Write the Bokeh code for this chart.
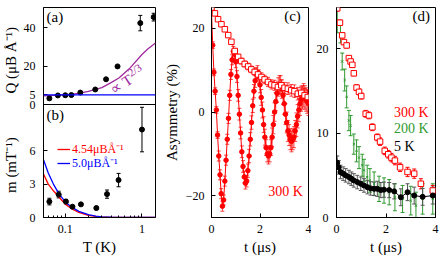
import math
from bokeh.layouts import row
from bokeh.models import (ColumnDataSource, FixedTicker, Label, Legend, LegendItem,
                          NumeralTickFormatter, Range1d, Span, TeeHead, Whisker)
from bokeh.plotting import figure
from bokeh.embed import file_html
from bokeh.resources import INLINE

FONT = "Liberation Serif"
RED = "#ff0000"
BLUE = "#0000ff"
PURPLE = "#a02aa0"
GREEN = "#2f9a2f"

# ---------------- panel (a) ----------------
a_T = [0.062, 0.080, 0.100, 0.120, 0.157, 0.246, 0.340, 0.480, 0.950, 1.420]
a_Q = [3.2, 4.7, 4.8, 4.9, 6.2, 7.8, 13.1, 19.8, 42.3, 45.4]
a_err = [0.8, 0.4, 0.4, 0.4, 0.5, 0.5, 0.5, 0.5, 4.0, 2.0]
a_fitT = [0.052, 0.07, 0.1, 0.15, 0.2, 0.3, 0.4, 0.5, 0.7, 1.0, 1.2, 1.5]
a_fitQ = [4.5, 4.7, 5.0, 5.8, 6.8, 8.8, 11.5, 13.8, 19.0, 26.0, 29.0, 32.0]
a_flat = 5.0
a_top = 50.4
a_yticks = [0, 5, 20, 40]

# ---------------- panel (b) ----------------
b_T = [0.062, 0.082, 0.102, 0.124, 0.160, 0.254, 0.350, 0.495, 1.000]
b_m = [1.43, 2.06, 1.43, 0.97, 1.18, 0.85, 2.1, 3.36, 7.9]
b_err = [0.3, 0.3, 0.2, 0.12, 0.12, 0.15, 0.37, 0.6, 2.0]
b_curveT = [0.052, 0.06, 0.07, 0.08, 0.09, 0.10, 0.12, 0.15, 0.20, 0.25, 0.30, 0.40, 0.50, 0.70, 1.0, 1.5]
b_red = [3.9, 3.0, 2.4, 1.95, 1.55, 1.2, 0.8, 0.45, 0.2, 0.1, 0.05, 0.02, 0.01, 0.0, 0.0, 0.0]
b_blue = [5.2, 4.0, 3.0, 2.3, 1.8, 1.4, 0.95, 0.55, 0.25, 0.12, 0.06, 0.025, 0.012, 0.0, 0.0, 0.0]
b_top = 10.15
b_yticks = [0, 3, 6]
T_range = (0.052, 1.5)
T_ticks = [0.1, 1.0]
T_minor = [0.06, 0.07, 0.08, 0.09, 0.2, 0.3, 0.4, 0.5, 0.6, 0.7, 0.8, 0.9]
b_leg_red = "4.54μBÅ⁻¹"
b_leg_blue = "5.0μBÅ⁻¹"

# ---------------- panel (c) ----------------
c_sq_t = [0.00, 0.14, 0.27, 0.41, 0.55, 0.69, 0.82, 0.96, 1.10, 1.23, 1.37, 1.51, 1.64, 1.78, 1.92,
          2.06, 2.19, 2.33, 2.47, 2.60, 2.74, 2.88, 3.01, 3.15, 3.29, 3.42, 3.56, 3.70, 3.84, 3.97]
c_sq_A = [25.0, 23.6, 22.2, 21.0, 19.8, 18.4, 16.8, 14.6, 13.2, 12.2, 11.5, 10.9, 10.2, 9.6, 9.0,
          8.4, 7.8, 7.2, 6.6, 6.4, 6.0, 6.4, 5.8, 5.6, 5.2, 5.0, 4.4, 4.6, 4.0, 3.6]
c_sq_err = [0.3, 0.3, 0.4, 0.4, 0.4, 0.5, 0.5, 0.6, 0.6, 0.7, 0.7, 0.8, 0.8, 0.9, 0.9,
            1.0, 1.0, 1.1, 1.1, 1.2, 1.2, 1.3, 1.3, 1.4, 1.4, 1.5, 1.5, 1.6, 1.6, 1.7]
c_ci_t = [0.00, 0.05, 0.10, 0.15, 0.20, 0.25, 0.30, 0.35, 0.40, 0.45, 0.50, 0.55, 0.60, 0.65, 0.70,
          0.75, 0.80, 0.85, 0.90, 0.95, 1.00, 1.05, 1.10, 1.15, 1.20, 1.25, 1.30, 1.35, 1.40, 1.45,
          1.50, 1.55, 1.60, 1.65, 1.70, 1.75, 1.80, 1.85, 1.90, 1.95, 2.00, 2.05, 2.10, 2.15, 2.20,
          2.25, 2.30, 2.35, 2.40, 2.45, 2.50, 2.55, 2.60, 2.65, 2.70, 2.75, 2.80, 2.85, 2.90, 2.95,
          3.00, 3.05, 3.10, 3.15, 3.20, 3.25, 3.30, 3.35, 3.40, 3.45, 3.50, 3.55, 3.60, 3.65, 3.70,
          3.75, 3.80, 3.85, 3.90, 3.95, 4.00]
c_ci_A = [24.0, 16.0, 9.5, 5.0, 0.5, -5.5, -10.5, -15.0, -19.5, -22.5, -21.0, -16.5, -11.5, -6.5, -1.5,
          4.0, 9.0, 12.5, 14.5, 14.0, 12.0, 8.5, 4.0, -0.5, -5.0, -9.5, -13.0, -15.5, -17.0, -16.5,
          -14.0, -10.5, -6.5, -2.5, 1.5, 5.0, 7.5, 9.0, 9.5, 8.5, 6.5, 3.5, 0.5, -3.0, -6.0,
          -8.5, -10.0, -10.5, -10.0, -8.5, -6.0, -3.0, 0.0, 2.5, 4.5, 6.0, 6.5, 6.5, 5.5, 4.0,
          2.0, -0.5, -2.5, -4.5, -5.5, -6.5, -7.0, -6.5, -6.0, -4.5, -3.0, -1.0, 0.5, 2.0, 3.0,
          3.5, 4.0, 3.5, 3.0, 2.5, 2.0]
c_ci_err = [0.8, 0.8, 0.8, 0.8, 0.8, 0.8, 1.2, 1.2, 1.2, 1.2, 1.2, 1.2, 1.2, 1.2, 1.2,
            1.2, 1.2, 1.2, 1.2, 1.2, 1.4, 1.4, 1.4, 1.4, 1.4, 1.4, 1.4, 1.4, 1.4, 1.4,
            1.6, 1.6, 1.6, 1.6, 1.6, 1.6, 1.6, 1.6, 1.6, 1.6, 1.9, 1.9, 1.9, 1.9, 1.9,
            1.9, 1.9, 1.9, 1.9, 1.9, 2.2, 2.2, 2.2, 2.2, 2.2, 2.2, 2.2, 2.2, 2.2, 2.2,
            2.5, 2.5, 2.5, 2.5, 2.5, 2.5, 2.5, 2.5, 2.5, 2.5, 2.8, 2.8, 2.8, 2.8, 2.8,
            2.8, 2.8, 2.8, 2.8, 2.8, 2.8]

# ---------------- panel (d) ----------------
d_red_t = [0.03, 0.14, 0.23, 0.30, 0.41, 0.50, 0.57, 0.64, 0.70, 0.81, 0.91, 1.00, 1.18,
           1.31, 1.45, 1.65, 1.76, 1.95, 2.09, 2.22, 2.36, 2.57, 2.87, 3.14, 3.41, 3.89]
d_red_A = [24.8, 23.1, 21.6, 20.8, 20.4, 18.9, 18.5, 18.1, 17.1, 15.4, 14.9, 14.4, 12.3,
           12.1, 10.7, 9.5, 9.0, 7.9, 7.5, 7.1, 6.75, 5.95, 5.4, 5.2, 4.0, 3.2]
d_red_err = [0.3, 0.3, 0.3, 0.3, 0.3, 0.3, 0.3, 0.3, 0.3, 0.35, 0.35, 0.35, 0.4,
             0.4, 0.4, 0.4, 0.45, 0.45, 0.45, 0.5, 0.5, 0.5, 0.55, 0.55, 0.6, 0.6]
d_grn_t = [0.03, 0.16, 0.23, 0.33, 0.41, 0.50, 0.57, 0.70, 0.81, 0.91, 1.04, 1.11,
           1.24, 1.35, 1.52, 1.72, 1.92, 2.13, 2.36, 2.67, 3.00, 3.21, 3.48, 3.89]
d_grn_A = [23.3, 21.8, 18.5, 16.3, 14.3, 11.5, 10.9, 8.7, 7.9, 7.1, 6.2, 5.6,
           4.8, 4.4, 4.0, 3.4, 3.2, 3.0, 2.4, 2.2, 2.0, 1.4, 2.2, 2.2]
d_grn_err = [1.4, 1.1, 1.0, 1.3, 1.3, 1.2, 1.2, 1.2, 1.3, 1.3, 1.3, 1.3,
             1.4, 1.4, 1.4, 1.5, 1.5, 1.5, 1.6, 1.6, 1.7, 1.6, 1.8, 1.8]
d_blk_t = [0.03, 0.09, 0.16, 0.27, 0.37, 0.50, 0.60, 0.70, 0.84, 0.98, 1.11, 1.25,
           1.38, 1.52, 1.65, 1.79, 1.92, 2.13, 2.33, 2.60, 2.87, 3.14, 3.48, 3.89]
d_blk_A = [6.5, 5.95, 5.4, 5.2, 5.0, 4.8, 4.6, 4.4, 4.2, 4.0, 3.8, 3.6,
           3.45, 3.4, 3.4, 3.25, 3.3, 3.25, 3.1, 2.4, 3.0, 2.6, 2.45, 2.6]
d_blk_err = [0.8, 0.8, 0.8, 0.8, 0.8, 0.8, 0.8, 0.8, 0.8, 0.8, 0.8, 0.8,
             0.8, 0.8, 0.9, 0.9, 0.9, 0.9, 0.9, 1.0, 1.0, 1.0, 1.0, 1.0]
t_ticks = [0, 2, 4]
c_yticks = [-20, 0, 20]
d_yticks = [0, 10, 20]

# layout sizes (pixels)
H = 260
TOP, BOT = 7, 43
FRAME_H = H - TOP - BOT
HA = 97
HB = FRAME_H - HA


def base(**kw):
    p = figure(output_backend="svg", toolbar_location=None, **kw)
    p.grid.visible = False
    p.outline_line_color = "black"
    p.outline_line_width = 1
    p.background_fill_color = "white"
    p.border_fill_color = "white"
    return p


def style_axis(ax, title=None, standoff=6):
    ax.major_tick_in = 4
    ax.major_tick_out = 0
    ax.minor_tick_in = 2
    ax.minor_tick_out = 0
    ax.major_label_text_font = FONT
    ax.major_label_text_font_size = "12px"
    ax.major_label_text_color = "black"
    ax.major_label_standoff = standoff
    ax.axis_label_text_font = FONT
    ax.axis_label_text_font_size = "15px"
    ax.axis_label_text_font_style = "normal"
    ax.axis_label_text_color = "black"
    ax.axis_label_standoff = 3
    if title:
        ax.axis_label = title
    ax.axis_line_color = "black"
    ax.major_tick_line_color = "black"
    ax.minor_tick_line_color = "black"


def errbars(p, x, y, e, color, head=4, width=1.0, alpha=1.0, **kw):
    src = ColumnDataSource(dict(x=x, lo=[a - b for a, b in zip(y, e)], hi=[a + b for a, b in zip(y, e)]))
    w = Whisker(source=src, base="x", lower="lo", upper="hi", line_color=color,
                line_width=width, line_alpha=alpha,
                upper_head=TeeHead(size=head, line_color=color, line_width=width, line_alpha=alpha),
                lower_head=TeeHead(size=head, line_color=color, line_width=width, line_alpha=alpha), **kw)
    p.add_layout(w)


def text(p, x, y, s, color="black", size="15px", align="left", baseline="middle", **kw):
    p.add_layout(Label(x=x, y=y, text=s, text_color=color, text_font=FONT, text_font_size=size,
                       text_align=align, text_baseline=baseline, **kw))


# ---- (a)+(b) share one frame: (b) on the default y range, (a) on an extra range
yb_top = b_top * FRAME_H / HB
ya_lo = -a_top * HB / HA


def a_to_b(q):
    return (q - ya_lo) / (a_top - ya_lo) * yb_top


# narrow strip that only carries the two y-axis titles of (a) and (b)
ft = figure(output_backend="svg", toolbar_location=None, width=20, height=H,
            x_range=Range1d(0, 1), y_range=Range1d(0, yb_top),
            x_axis_location=None, y_axis_location=None,
            min_border_left=0, min_border_right=0, min_border_top=TOP, min_border_bottom=BOT)
ft.grid.visible = False
ft.outline_line_color = None
ft.extra_y_ranges = {"a": Range1d(ya_lo, a_top)}
text(ft, 0.5, 23.0, "Q (μB Å⁻¹)", size="15px", align="center", angle=math.pi / 2, y_range_name="a")
text(ft, 0.5, 4.7, "m (mT⁻¹)", size="15px", align="center", angle=math.pi / 2)

fab = base(x_axis_type="log", x_range=Range1d(*T_range), y_range=Range1d(0, yb_top),
           width=140, height=H, min_border_left=23, min_border_right=5,
           min_border_top=TOP, min_border_bottom=BOT)
fab.extra_y_ranges = {"a": Range1d(ya_lo, a_top)}

tick_pos = [float(v) for v in b_yticks] + [a_to_b(q) for q in a_yticks]
tick_lab = [str(v) for v in b_yticks] + [str(q) for q in a_yticks]
style_axis(fab.yaxis[0], None, 8)
fab.yaxis[0].ticker = FixedTicker(ticks=tick_pos, minor_ticks=[])
fab.yaxis[0].major_label_overrides = dict(zip(tick_pos, tick_lab))
style_axis(fab.xaxis[0], "T (K)", 7)
fab.xaxis[0].ticker = FixedTicker(ticks=T_ticks, minor_ticks=T_minor)
fab.xaxis[0].formatter = NumeralTickFormatter(format="0.[0]")
fab.add_layout(Span(location=b_top, dimension="width", line_color="black", line_width=1))

# panel (a) content
fab.add_layout(Span(location=a_flat, dimension="width", line_color=BLUE, line_width=1.3, y_range_name="a"))
fab.line(a_fitT, a_fitQ, line_color=PURPLE, line_width=1.3, y_range_name="a")
errbars(fab, a_T, a_Q, a_err, "black", y_range_name="a")
fab.scatter(a_T, a_Q, size=5, color="black", y_range_name="a")
text(fab, 0.057, 45.6, "(a)", y_range_name="a")
text(fab, 0.40, 7.0, "∝ T", color=PURPLE, size="15px", baseline="alphabetic", angle=0.58, y_range_name="a")
text(fab, 0.40, 7.0, "2/3", color=PURPLE, size="11px", baseline="alphabetic", angle=0.58,
     x_offset=17.3, y_offset=17.3, y_range_name="a")

# panel (b) content
r_red = fab.line(b_curveT, b_red, line_color=RED, line_width=1.3)
r_blue = fab.line(b_curveT, b_blue, line_color=BLUE, line_width=1.3)
errbars(fab, b_T, b_m, b_err, "black")
fab.scatter(b_T, b_m, size=5, color="black")
text(fab, 0.057, 9.17, "(b)")
for lab, rr, col, vy in [(b_leg_red, r_red, RED, 60), (b_leg_blue, r_blue, BLUE, 46)]:
    leg = Legend(items=[LegendItem(label=lab, renderers=[rr])], location=(14, vy),
                 background_fill_alpha=0, border_line_alpha=0, padding=0, margin=0, spacing=0,
                 glyph_width=13, glyph_height=12, label_height=12, label_standoff=2,
                 label_text_font=FONT, label_text_font_size="12px", label_text_color=col)
    fab.add_layout(leg)

# ---- (c)
fc = base(x_range=Range1d(0, 4), y_range=Range1d(-25.2, 25.0),
          width=151, height=H, min_border_left=51, min_border_right=3,
          min_border_top=TOP, min_border_bottom=BOT)
style_axis(fc.yaxis[0], "Asymmetry (%)", 7)
fc.yaxis[0].ticker = FixedTicker(ticks=c_yticks, minor_ticks=[])
style_axis(fc.xaxis[0], "t (μs)", 7)
fc.xaxis[0].ticker = FixedTicker(ticks=t_ticks, minor_ticks=[])
errbars(fc, c_ci_t, c_ci_A, c_ci_err, RED, head=4, width=0.9, alpha=0.8)
fc.line(c_ci_t, c_ci_A, line_color=RED, line_width=1)
fc.scatter(c_ci_t, c_ci_A, size=4.5, color=RED)
errbars(fc, c_sq_t, c_sq_A, c_sq_err, RED, head=4, width=0.9, alpha=0.8)
fc.line(c_sq_t, c_sq_A, line_color=RED, line_width=0.8)
fc.scatter(c_sq_t, c_sq_A, marker="square", size=5.5, line_color=RED, fill_color="white", line_width=1)
text(fc, 3.34, 23.0, "(c)", align="center")
text(fc, 3.05, -19.0, "300 K", color=RED, size="14px", align="center")

# ---- (d)
fd = base(x_range=Range1d(0, 4), y_range=Range1d(0, 24.9),
          width=131, height=H, min_border_left=25, min_border_right=7,
          min_border_top=TOP, min_border_bottom=BOT)
style_axis(fd.yaxis[0], None, 8)
fd.yaxis[0].ticker = FixedTicker(ticks=d_yticks, minor_ticks=[])
style_axis(fd.xaxis[0], "t (μs)", 7)
fd.xaxis[0].ticker = FixedTicker(ticks=t_ticks, minor_ticks=[])
errbars(fd, d_grn_t, d_grn_A, d_grn_err, GREEN, head=4, width=1)
fd.scatter(d_grn_t, d_grn_A, marker="x", size=3, color=GREEN)
errbars(fd, d_red_t, d_red_A, d_red_err, RED, head=4, width=1)
fd.scatter(d_red_t, d_red_A, marker="square", size=5.5, line_color=RED, fill_color="white", line_width=1)
errbars(fd, d_blk_t, d_blk_A, d_blk_err, "#555555", head=4, width=1)
fd.line(d_blk_t, d_blk_A, line_color="black", line_width=1)
fd.scatter(d_blk_t, d_blk_A, size=5, color="black")
text(fd, 3.42, 23.9, "(d)", align="center")
text(fd, 2.32, 12.4, "300 K", color=RED, size="14px")
text(fd, 2.32, 10.6, "200 K", color=GREEN, size="14px")
text(fd, 2.32, 8.4, "5 K", color="black", size="14px")

layout = row(ft, fab, fc, fd)
open("out.html", "w").write(file_html(layout, INLINE))
